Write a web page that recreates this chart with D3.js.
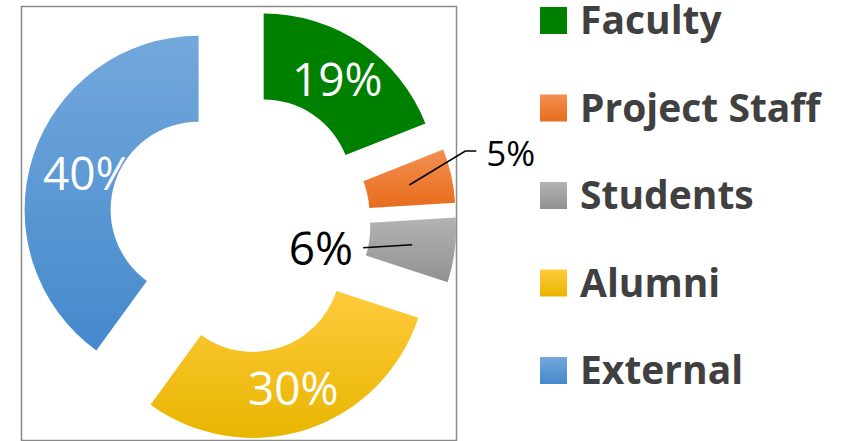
<!DOCTYPE html>
<html>
<head>
<meta charset="utf-8">
<script src="https://cdn.jsdelivr.net/npm/d3@7"></script>
<style>
  body { margin: 0; background: #fff; }
  svg { display: block; }
</style>
</head>
<body>
<svg id="chart" width="846" height="441"></svg>
<script>
// data
const categories = ["Faculty", "Project Staff", "Students", "Alumni", "External"];
const shares = [19, 5, 6, 30, 40];
const topColors = ["#008000", "#f38f52", "#b3b3b3", "#ffcb3c", "#73a8dc"];
const bottomColors = ["#008000", "#e86c1c", "#919191", "#e8b500", "#4589cc"];

const svg = d3.select("#chart");

// gradients, one per category (top lighter, bottom darker)
const defs = svg.append("defs");
categories.forEach((c, i) => {
    const g = defs.append("linearGradient")
        .attr("id", "grad" + i)
        .attr("x1", 0).attr("y1", 0).attr("x2", 0).attr("y2", 1);
    g.append("stop").attr("offset", "0%").attr("stop-color", topColors[i]);
    g.append("stop").attr("offset", "100%").attr("stop-color", bottomColors[i]);
});

// plot area border
svg.append("rect")
    .attr("x", 21.5).attr("y", 6.5)
    .attr("width", 435).attr("height", 434)
    .attr("fill", "none")
    .attr("stroke", "#8a8a8a")
    .attr("stroke-width", 1.5);

const cx = 239.5, cy = 223;
const outerR = 174, innerR = 88, explode = 43;

const table = categories.map((c, i) => ({name: c, value: shares[i], idx: i}));

const pie = d3.pie().sort(null).value(d => d.value);
const arcs = pie(table);

const arc = d3.arc().innerRadius(innerR).outerRadius(outerR);

function midDir(d) {
    const a = (d.startAngle + d.endAngle) / 2;
    return [Math.sin(a), -Math.cos(a)];
}

const donut = svg.append("g").attr("transform", `translate(${cx},${cy})`);

const slices = donut.selectAll("g.slice")
    .data(arcs)
    .join("g")
    .attr("class", "slice")
    .attr("transform", d => {
        const [ux, uy] = midDir(d);
        return `translate(${ux * explode},${uy * explode})`;
    });

slices.append("path")
    .attr("d", arc)
    .attr("fill", d => `url(#grad${d.data.idx})`);

// labels
const labelFont = "'Open Sans', 'DejaVu Sans', sans-serif";

slices.filter(d => d.data.value >= 10)
    .append("text")
    .attr("transform", d => {
        const [ux, uy] = midDir(d);
        const r = d.data.name === "External" ? 116 : 131;
        return `translate(${ux * r},${uy * r})`;
    })
    .attr("text-anchor", "middle")
    .attr("dy", "0.36em")
    .attr("fill", "#fff")
    .style("font-family", labelFont)
    .style("font-size", "46px")
    .text(d => d.data.value + "%");

// outside labels with leader lines
const leaders = {
    "Project Staff": {pts: [[0, 0], [56, -34], [67, -34]], tx: 77, ty: -19, anchor: "start", size: 35},
    "Students": {pts: [[0, 0], [-49, 3]], tx: -59, ty: 20, anchor: "end", size: 46}
};

const small = slices.filter(d => d.data.value < 10);

small.append("path")
    .attr("d", d => {
        const [ux, uy] = midDir(d);
        const r = (innerR + outerR) / 2;
        const c0 = [ux * r, uy * r];
        return d3.line()(leaders[d.data.name].pts.map(p => [c0[0] + p[0], c0[1] + p[1]]));
    })
    .attr("fill", "none")
    .attr("stroke", "#000")
    .attr("stroke-width", 1.6);

small.append("text")
    .attr("x", d => {
        const [ux] = midDir(d);
        return ux * (innerR + outerR) / 2 + leaders[d.data.name].tx;
    })
    .attr("y", d => {
        const [, uy] = midDir(d);
        return uy * (innerR + outerR) / 2 + leaders[d.data.name].ty;
    })
    .attr("text-anchor", d => leaders[d.data.name].anchor)
    .attr("fill", "#000")
    .style("font-family", labelFont)
    .style("font-size", d => leaders[d.data.name].size + "px")
    .text(d => d.data.value + "%");

// legend
const legendY = d3.scalePoint()
    .domain(categories)
    .range([34, 384]);

const legend = svg.append("g").attr("class", "legend");

const items = legend.selectAll("g")
    .data(table)
    .join("g")
    .attr("transform", d => `translate(540,${legendY(d.name)})`);

items.append("rect")
    .attr("x", 0).attr("y", -27)
    .attr("width", 27).attr("height", 27)
    .attr("fill", d => `url(#grad${d.idx})`);

items.append("text")
    .attr("x", 40)
    .attr("y", 0)
    .attr("fill", "#404040")
    .style("font-family", labelFont)
    .style("font-weight", "bold")
    .style("font-size", "39px")
    .text(d => d.name);
</script>
</body>
</html>
